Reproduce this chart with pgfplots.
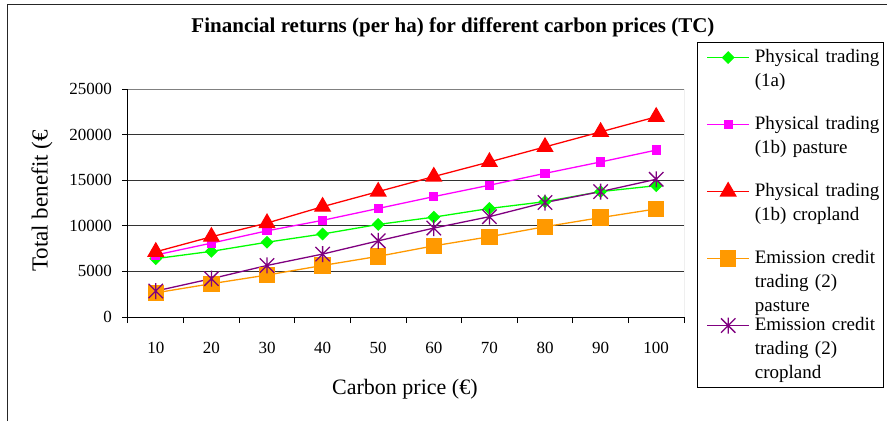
\documentclass[border=0pt]{standalone}
\usepackage{fontspec}
\setmainfont{Liberation Serif}
\usepackage{pgfplots}
\pgfplotsset{compat=1.18}
\definecolor{cgreen}{HTML}{00FF00}
\definecolor{cmag}{HTML}{FF00FF}
\definecolor{cred}{HTML}{FF0000}
\definecolor{corange}{HTML}{FF9900}
\definecolor{cpurple}{HTML}{800080}
\pgfdeclareplotmark{xstar}{%
  \pgfpathmoveto{\pgfqpoint{0pt}{\pgfplotmarksize}}%
  \pgfpathlineto{\pgfqpoint{0pt}{-\pgfplotmarksize}}%
  \pgfpathmoveto{\pgfqpoint{-0.9\pgfplotmarksize}{-0.9\pgfplotmarksize}}%
  \pgfpathlineto{\pgfqpoint{0.9\pgfplotmarksize}{0.9\pgfplotmarksize}}%
  \pgfpathmoveto{\pgfqpoint{-0.9\pgfplotmarksize}{0.9\pgfplotmarksize}}%
  \pgfpathlineto{\pgfqpoint{0.9\pgfplotmarksize}{-0.9\pgfplotmarksize}}%
  \pgfusepathqstroke}
\begin{document}
\begin{tikzpicture}[x=1pt,y=1pt]
\useasboundingbox (0,0) rectangle (887,421);
\fill[white] (0,0) rectangle (887,421);
\draw[line width=1pt, black!85] (7,0) -- (7,416) -- (887,416);
\begin{axis}[
  at={(128pt,104pt)}, anchor=south west,
  width=556pt, height=228pt, scale only axis,
  xmin=0.5, xmax=10.5, ymin=0, ymax=25000,
  xtick={0.5,1.5,2.5,3.5,4.5,5.5,6.5,7.5,8.5,9.5,10.5},
  xticklabels={10,20,30,40,50,60,70,80,90,100,{}},
  ytick={0,5000,10000,15000,20000,25000},
  axis lines=left, axis line style={-, black, line width=1pt},
  tick align=outside, major tick length=6pt,
  tick style={black, line width=1pt},
  ymajorgrids, grid style={black!80, line width=1pt},
  scaled y ticks=false,
  tick label style={font=\fontsize{17}{20}\selectfont, inner sep=0pt},
  /pgf/number format/assume math mode=true,
  /pgf/number format/1000 sep={},
  xticklabel style={anchor=north, xshift=27.8pt, yshift=-19pt},
  yticklabel style={anchor=east, xshift=-10pt},
  title={Financial returns (per ha) for different carbon prices (TC)},
  title style={at={(axis description cs:0.5845,1.2237)}, anchor=base, inner sep=0pt, font=\bfseries\fontsize{21}{25}\selectfont},
  xlabel={Carbon price (€)},
  xlabel style={at={(axis description cs:0.498,-0.342)}, anchor=base, inner sep=0pt, font=\fontsize{22}{26}\selectfont},
  ylabel={Total benefit (€},
  ylabel style={at={(axis description cs:-0.1547,0.5088)}, anchor=center, inner sep=0pt, font=\fontsize{23}{27}\selectfont},
  legend style={at={(axis description cs:1.0234,1.2061)}, anchor=north west,
    draw=black, line width=1pt, fill=white,
    inner xsep=9pt, inner ysep=5pt, row sep=0pt, column sep=5pt,
    nodes={inner sep=0pt, text width=120pt, align=left, text height=15pt, text depth=52pt, font=\fontsize{19}{24}\selectfont},
    cells={anchor=base west}},
  legend image code/.code={\draw[mark repeat=2,mark phase=2,#1,yshift=5pt] plot coordinates {(0pt,0pt) (21pt,0pt) (42pt,0pt)};},
]
\addplot[color=cgreen, line width=1.3pt, mark=square*, mark size=3.9pt, mark options={rotate=45, solid, fill=cgreen}]
  coordinates {(1,6400) (2,7200) (3,8200) (4,9100) (5,10150) (6,10950) (7,11900) (8,12650) (9,13750) (10,14400)};
\addlegendentry{\mbox{Physical trading}\\(1a)}
\addplot[color=cmag, line width=1.3pt, mark=square*, mark size=4pt, mark options={solid, fill=cmag}]
  coordinates {(1,6800) (2,8100) (3,9450) (4,10600) (5,11900) (6,13200) (7,14450) (8,15750) (9,17000) (10,18300)};
\addlegendentry{\mbox{Physical trading}\\(1b) pasture}
\addplot[color=cred, line width=1.3pt, mark=triangle*, mark size=8.7pt, mark options={solid, fill=cred}]
  coordinates {(1,7150) (2,8800) (3,10300) (4,12100) (5,13750) (6,15400) (7,17000) (8,18650) (9,20300) (10,21950)};
\addlegendentry{\mbox{Physical trading}\\(1b) cropland}
\addplot[color=corange, line width=1.3pt, mark=square*, mark size=7.5pt, mark options={solid, fill=corange}]
  coordinates {(1,2650) (2,3650) (3,4600) (4,5650) (5,6650) (6,7800) (7,8800) (8,9900) (9,10900) (10,11850)};
\addlegendentry{\mbox{Emission credit}\\trading (2)\\pasture}
\addplot[color=cpurple, line width=1.3pt, mark=xstar, mark size=8pt, mark options={solid}]
  coordinates {(1,2850) (2,4200) (3,5650) (4,6900) (5,8350) (6,9750) (7,11000) (8,12550) (9,13750) (10,15100)};
\addlegendentry{\mbox{Emission credit}\\trading (2)\\cropland}
\draw[gray, line width=1pt] (rel axis cs:0,1) -- (rel axis cs:1,1) -- (rel axis cs:1,0);
\end{axis}
\end{tikzpicture}
\end{document}
